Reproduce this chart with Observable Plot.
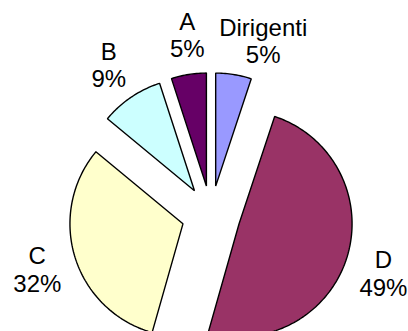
<!DOCTYPE html>
<html><head><meta charset="utf-8">
<script src="https://cdn.jsdelivr.net/npm/d3@7"></script>
<script src="https://cdn.jsdelivr.net/npm/@observablehq/plot@0.6"></script>
<style>body{margin:0;background:#fff}</style>
</head><body><div id="chart"></div>
<script>
// Data
const categories = ["Dirigenti", "D", "C", "B", "A"];
const values = [5.1, 49.3, 31.6, 9, 5];
const percentLabels = ["5%", "49%", "32%", "9%", "5%"];
const colors = ["#9999FF", "#993366", "#FFFFCC", "#CCFFFF", "#660066"];

// Layout (in pie-radius units)
const explode = 0.26, labelR = 1.61;
const labelShiftDeg = {Dirigenti: 7.5, A: 1.5, D: 1.5};

const table = categories.map((c, i) => ({cat: c, value: values[i], pct: percentLabels[i]}));
const arcs = d3.pie().sort(null).value(d => d.value)(table);

const points = [];
const labelRows = [];
for (const a of arcs) {
  const mid = (a.startAngle + a.endAngle) / 2;
  const cx = explode * Math.sin(mid), cy = explode * Math.cos(mid);
  points.push({cat: a.data.cat, x: cx, y: cy});
  const n = Math.max(4, Math.ceil((a.endAngle - a.startAngle) / (Math.PI / 180)));
  for (let k = 0; k <= n; k++) {
    const t = a.startAngle + (a.endAngle - a.startAngle) * k / n;
    points.push({cat: a.data.cat, x: cx + Math.sin(t), y: cy + Math.cos(t)});
  }
  const la = mid + (labelShiftDeg[a.data.cat] || 0) * Math.PI / 180;
  labelRows.push({text: a.data.cat + "\n" + a.data.pct, x: labelR * Math.sin(la), y: labelR * Math.cos(la)});
}

const chart = Plot.plot({
  width: 408, height: 331,
  margin: 0,
  x: {domain: [-1.863, 1.748], axis: null},
  y: {domain: [-1.030, 1.899], axis: null},
  color: {domain: categories, range: colors},
  style: {background: "white"},
  marks: [
    Plot.line(points, {x: "x", y: "y", z: "cat", fill: "cat", stroke: "black", strokeWidth: 1.4,
      curve: "linear-closed", strokeLinejoin: "miter"}),
    Plot.text(labelRows, {x: "x", y: "y", text: "text", fontSize: 24, lineHeight: 1.15,
      fontFamily: "'Liberation Sans', Arial, sans-serif", fill: "black"})
  ]
});
document.getElementById("chart").appendChild(chart);
</script>
</body></html>
